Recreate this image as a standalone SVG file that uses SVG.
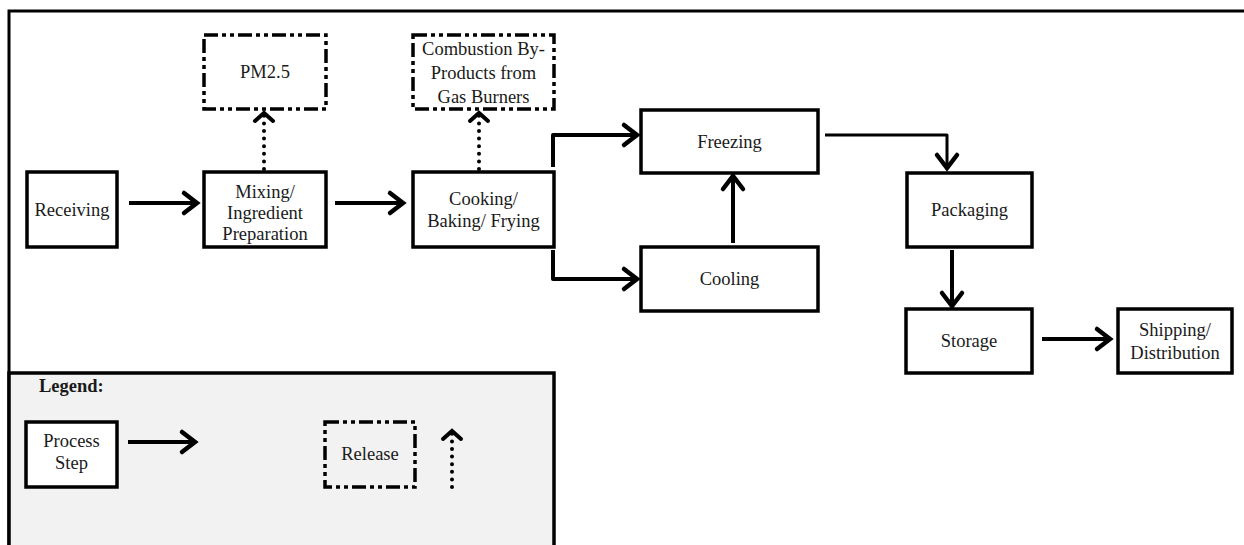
<svg xmlns="http://www.w3.org/2000/svg" width="1244" height="545" viewBox="0 0 1244 545">
<style>
  .box { fill: #ffffff; stroke: #000000; stroke-width: 3.5; }
  .rel { fill: #ffffff; stroke: #000000; stroke-width: 3.5; stroke-dasharray: 14 4 4 4 4 4; }
  .lbl { font-family: "Liberation Serif", "Times New Roman", serif; font-size: 18.5px; fill: #1a1a1a; text-anchor: middle; }
  .leg { font-family: "Liberation Serif", "Times New Roman", serif; font-size: 18.5px; font-weight: bold; fill: #1a1a1a; }
  .flow { fill: none; stroke: #000000; stroke-width: 4; stroke-linejoin: round; marker-end: url(#head); }
  .thin { stroke-width: 3; }
  .dot { fill: none; stroke: #000000; stroke-width: 4; stroke-linecap: round; stroke-dasharray: 0 7.6; marker-end: url(#dhead); }
</style>
<defs>
  <marker id="head" markerUnits="userSpaceOnUse" viewBox="-17 -14 21 28" refX="0" refY="0" markerWidth="21" markerHeight="28" orient="auto">
    <path d="M-13,-10 L0,0 L-13,10" fill="none" stroke="#000000" stroke-width="4.5" stroke-linecap="round" stroke-linejoin="miter"/>
  </marker>
  <marker id="dhead" markerUnits="userSpaceOnUse" viewBox="-12 -13 16 26" refX="0" refY="0" markerWidth="16" markerHeight="26" orient="auto">
    <path d="M-8,-9 L0,0 L-8,9" fill="none" stroke="#000000" stroke-width="4" stroke-linecap="round" stroke-linejoin="miter"/>
  </marker>
</defs>
<rect width="1244" height="545" fill="#ffffff"/>
<g id="frame">
  <rect x="9" y="11" width="1260" height="600" fill="none" stroke="#000000" stroke-width="3"/>
</g>
<g id="legend">
  <rect x="9" y="373" width="545" height="200" fill="#f2f2f2" stroke="#000000" stroke-width="3.5"/>
  <text class="leg" x="39" y="392">Legend:</text>
  <g id="legend-process">
    <rect class="box" x="26" y="422" width="91" height="65"/>
    <text class="lbl" x="71.5" y="447">Process</text>
    <text class="lbl" x="71.5" y="469">Step</text>
  </g>
  <g id="legend-release">
    <rect class="rel" x="325" y="422" width="90" height="65" style="fill:#f2f2f2"/>
    <text class="lbl" x="370" y="460">Release</text>
  </g>
</g>
<g id="receiving">
  <rect class="box" x="27" y="172" width="90" height="75"/>
  <text class="lbl" x="72" y="216">Receiving</text>
</g>
<g id="mixing">
  <rect class="box" x="204" y="172" width="122" height="75"/>
  <text class="lbl" x="265" y="198">Mixing/</text>
  <text class="lbl" x="265" y="219">Ingredient</text>
  <text class="lbl" x="265" y="240">Preparation</text>
</g>
<g id="pm25">
  <rect class="rel" x="204" y="35" width="122" height="74"/>
  <text class="lbl" x="265" y="78">PM2.5</text>
</g>
<g id="cooking">
  <rect class="box" x="413" y="172" width="141" height="75"/>
  <text class="lbl" x="483.5" y="205">Cooking/</text>
  <text class="lbl" x="483.5" y="227">Baking/ Frying</text>
</g>
<g id="combustion">
  <rect class="rel" x="413" y="35" width="141" height="74"/>
  <text class="lbl" x="483.5" y="55">Combustion By-</text>
  <text class="lbl" x="483.5" y="79">Products from</text>
  <text class="lbl" x="483.5" y="103">Gas Burners</text>
</g>
<g id="freezing">
  <rect class="box" x="641" y="110" width="177" height="63"/>
  <text class="lbl" x="729.5" y="148">Freezing</text>
</g>
<g id="cooling">
  <rect class="box" x="641" y="247" width="177" height="64"/>
  <text class="lbl" x="729.5" y="285">Cooling</text>
</g>
<g id="packaging">
  <rect class="box" x="907" y="173" width="125" height="74"/>
  <text class="lbl" x="969.5" y="216">Packaging</text>
</g>
<g id="storage">
  <rect class="box" x="906" y="309" width="126" height="64"/>
  <text class="lbl" x="969" y="347">Storage</text>
</g>
<g id="shipping">
  <rect class="box" x="1118" y="309" width="114" height="64"/>
  <text class="lbl" x="1175" y="336">Shipping/</text>
  <text class="lbl" x="1175" y="359">Distribution</text>
</g>
<g id="connectors">
  <path class="flow" d="M129,203 H197"/>
  <path class="flow" d="M335,203 H403"/>
  <path class="flow" d="M553,167 V135 H637"/>
  <path class="flow" d="M553,250 V279 H637"/>
  <path class="flow" d="M733,243 V176"/>
  <path class="flow thin" d="M825,135 H947 V168"/>
  <path class="flow" d="M952,250 V306"/>
  <path class="flow" d="M1042,339 H1110"/>
  <path class="dot" d="M264,169 V113"/>
  <path class="dot" d="M479,169 V113"/>
  <path class="flow" d="M128,442 H195"/>
  <path class="dot" d="M452,487 V431"/>
</g>
</svg>
